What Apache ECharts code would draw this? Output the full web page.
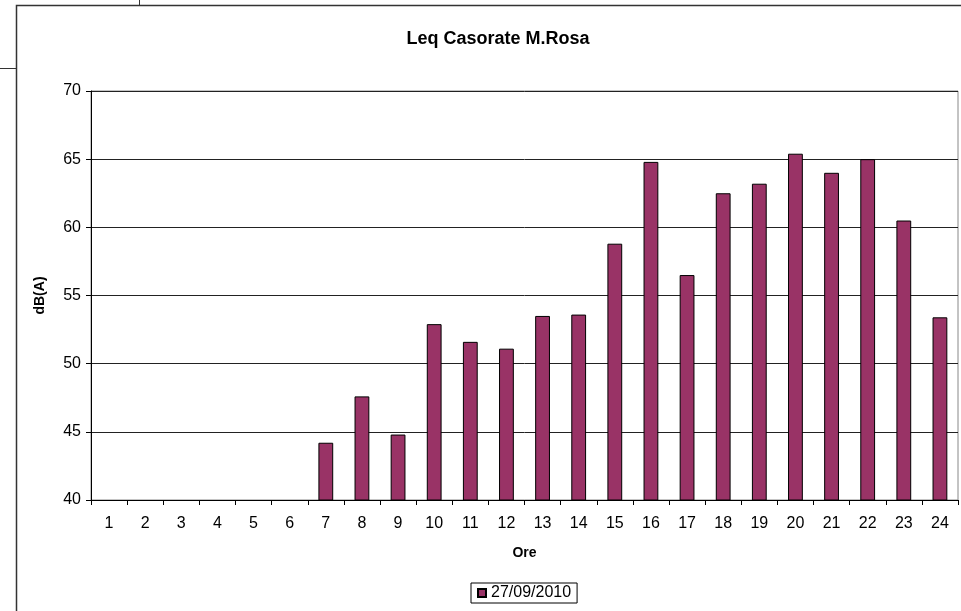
<!DOCTYPE html>
<html>
<head>
<meta charset="utf-8">
<script src="https://cdn.jsdelivr.net/npm/echarts@6/dist/echarts.min.js"></script>
<style>html,body{margin:0;padding:0;background:#fff}#c{width:961px;height:611px}</style>
</head>
<body>
<div id="c"></div>
<script>
const titleText = 'Leq Casorate M.Rosa';
const xName = 'Ore';
const yName = 'dB(A)';
const seriesName = '27/09/2010';
const hours = ['1','2','3','4','5','6','7','8','9','10','11','12','13','14','15','16','17','18','19','20','21','22','23','24'];
const leq = [null,null,null,null,null,null,44.2,47.6,44.8,52.9,51.6,51.1,53.5,53.6,58.8,64.8,56.5,62.5,63.2,65.4,64.0,65.0,60.5,53.4];
const yMin = 40, yMax = 70, yStep = 5;

const FONT = 'Liberation Sans, Arial, sans-serif';
const chart = echarts.init(document.getElementById('c'), null, {renderer: 'canvas'});
chart.setOption({
  animation: false,
  backgroundColor: '#fff',
  title: {
    text: titleText, left: 493, textAlign: 'center', top: 25,
    textStyle: {fontFamily: FONT, fontSize: 18, fontWeight: 'bold', color: '#000'}
  },
  grid: {left: 91, top: 91, right: 3, bottom: 111, show: true, borderColor: '#888', borderWidth: 1, backgroundColor: 'transparent'},
  legend: {
    left: 471, top: 583, padding: [2, 6, 2, 6],
    borderColor: '#000', borderWidth: 1,
    itemWidth: 8, itemHeight: 8, icon: 'rect',
    textStyle: {fontFamily: FONT, fontSize: 16, color: '#000'},
    data: [seriesName]
  },
  xAxis: {
    type: 'category', data: hours, boundaryGap: true,
    name: xName, nameLocation: 'middle', nameGap: 46,
    nameTextStyle: {fontFamily: FONT, fontSize: 14, fontWeight: 'bold', color: '#000'},
    axisLine: {lineStyle: {color: '#000', width: 1}},
    axisTick: {show: true, length: 5, alignWithLabel: false, lineStyle: {color: '#000'}},
    axisLabel: {fontFamily: FONT, fontSize: 16, color: '#000', margin: 16, interval: 0}
  },
  yAxis: {
    type: 'value', min: yMin, max: yMax, interval: yStep,
    name: yName, nameLocation: 'middle', nameGap: 44, nameRotate: 90,
    nameTextStyle: {fontFamily: FONT, fontSize: 14, fontWeight: 'bold', color: '#000'},
    axisLine: {show: true, lineStyle: {color: '#000', width: 1}},
    axisTick: {show: true, length: 5, lineStyle: {color: '#000'}},
    axisLabel: {fontFamily: FONT, fontSize: 16, color: '#000', margin: 10},
    splitLine: {show: true, lineStyle: {color: '#222', width: 1}}
  },
  series: [{
    name: seriesName, type: 'bar', data: leq, barWidth: '41%',
    itemStyle: {color: '#993366', borderColor: '#000', borderWidth: 1}
  }],
  graphic: [
    {type: 'rect', shape: {x: 16.5, y: 5.5, width: 1100, height: 1100}, style: {fill: null, stroke: '#333', lineWidth: 1.5}, z: -1},
    {type: 'line', shape: {x1: 139.5, y1: 0, x2: 139.5, y2: 5}, style: {stroke: '#333', lineWidth: 1}},
    {type: 'line', shape: {x1: 0, y1: 68.5, x2: 16, y2: 68.5}, style: {stroke: '#333', lineWidth: 1}}
  ]
});
</script>
</body>
</html>
